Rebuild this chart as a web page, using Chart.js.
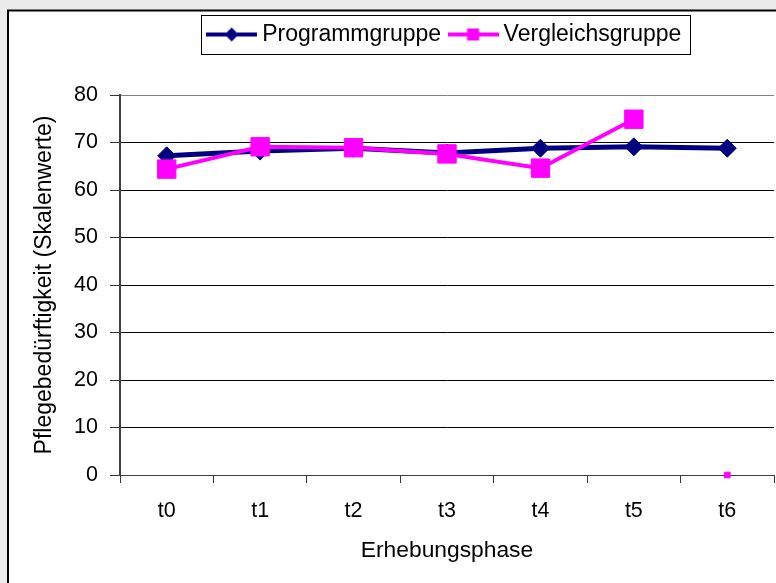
<!DOCTYPE html>
<html>
<head>
<meta charset="utf-8">
<script src="https://cdn.jsdelivr.net/npm/chart.js@4.4.1/dist/chart.umd.min.js"></script>
<style>
    body { margin: 0; background: #ebebeb; }
    canvas { display: block; }
</style>
</head>
<body>
<canvas id="grafico" width="776" height="583"></canvas>
<script>
const phasen = ['t0', 't1', 't2', 't3', 't4', 't5', 't6'];
const programmgruppe = [67.2, 68.2, 68.8, 67.8, 68.8, 69.1, 68.8];
const vergleichsgruppe = [64.4, 69.1, 68.9, 67.6, 64.6, 74.9, 0];
const yTicks = [0, 10, 20, 30, 40, 50, 60, 70, 80];

const FONT = "'Liberation Sans', Arial, sans-serif";

// legend sample: line with marker
function sample(color, marker) {
    const c = document.createElement('canvas');
    c.width = 51; c.height = 20;
    const g = c.getContext('2d');
    g.strokeStyle = color;
    g.lineWidth = 4;
    g.beginPath(); g.moveTo(0, 10); g.lineTo(51, 10); g.stroke();
    g.fillStyle = color;
    g.beginPath();
    if (marker === 'diamond') {
        g.moveTo(25.5, 3); g.lineTo(32.5, 10); g.lineTo(25.5, 17); g.lineTo(18.5, 10);
    } else {
        g.rect(19.5, 4, 12, 12);
    }
    g.fill();
    return c;
}
const samples = [sample('#000080', 'diamond'), sample('#ff00ff', 'square')];

const rahmen = {
    id: 'rahmen',
    beforeInit(chart) {
        const fit = chart.legend.fit;
        chart.legend.fit = function () {
            fit.bind(chart.legend)();
            this.height = 85;
        };
    },
    beforeDraw(chart) {
        const ctx = chart.ctx;
        ctx.save();
        ctx.fillStyle = '#ebebeb';
        ctx.fillRect(0, 0, chart.width, chart.height);
        ctx.fillStyle = '#ffffff';
        ctx.fillRect(7, 10, chart.width, chart.height);
        ctx.strokeStyle = '#000';
        ctx.lineWidth = 2;
        ctx.beginPath();
        ctx.moveTo(8, chart.height); ctx.lineTo(8, 10.5); ctx.lineTo(chart.width, 10.5);
        ctx.stroke();
        ctx.restore();
    },
    afterDraw(chart) {
        const boxes = chart.legend.legendHitBoxes;
        if (!boxes || !boxes.length) return;
        const first = boxes[0], last = boxes[boxes.length - 1];
        const ctx = chart.ctx;
        ctx.save();
        ctx.strokeStyle = '#000';
        ctx.lineWidth = 1;
        const l = Math.round(first.left - 12) + 0.5;
        const r = Math.round(last.left + last.width + 9) + 0.5;
        const t = Math.round(first.top - 8) + 0.5;
        const b = Math.round(first.top + first.height + 8) + 0.5;
        ctx.strokeRect(l, t, r - l, b - t);
        ctx.restore();
    }
};

new Chart(document.getElementById('grafico'), {
    type: 'line',
    data: {
        labels: phasen,
        datasets: [{
            label: 'Programmgruppe',
            data: programmgruppe,
            order: 1,
            borderColor: '#000080',
            backgroundColor: '#000080',
            borderWidth: 5,
            pointStyle: 'rectRot',
            pointRadius: 9,
            pointBorderWidth: 1,
            tension: 0,
            clip: false
        }, {
            label: 'Vergleichsgruppe',
            data: vergleichsgruppe,
            order: 0,
            borderColor: '#ff00ff',
            backgroundColor: '#ff00ff',
            borderWidth: 4,
            pointStyle: 'rect',
            pointRadius: ctx => ctx.dataIndex === 6 ? 4 : 13,
            pointBorderWidth: 1,
            tension: 0,
            clip: false,
            segment: {
                borderColor: ctx => ctx.p1DataIndex === 6 ? 'rgba(0,0,0,0)' : undefined
            }
        }]
    },
    options: {
        responsive: false,
        animation: false,
        layout: { autoPadding: false, padding: { top: 10, left: 0, right: 2, bottom: 0 } },
        plugins: {
            tooltip: { enabled: false },
            legend: {
                position: 'top',
                fullSize: false,
                labels: {
                    usePointStyle: true,
                    pointStyleWidth: 38,
                    padding: 13,
                    color: '#000',
                    font: { family: FONT, size: 23 },
                    sort: (a, b) => a.datasetIndex - b.datasetIndex,
                    generateLabels(chart) {
                        const items = Chart.defaults.plugins.legend.labels.generateLabels(chart);
                        items.forEach(it => { it.pointStyle = samples[it.datasetIndex]; });
                        return items;
                    }
                }
            }
        },
        scales: {
            x: {
                offset: true,
                afterFit(scale) {
                    scale.height = 108;
                    scale.paddingLeft = 0;
                    scale.paddingRight = 0;
                },
                grid: {
                    offset: true,
                    tickLength: 8,
                    color: ctx => ctx.index === phasen.length ? '#808080' : 'rgba(0,0,0,0)',
                    tickColor: '#333'
                },
                border: { color: '#404040', width: 1 },
                ticks: {
                    color: '#000',
                    padding: 15.6,
                    font: { family: FONT, size: 21.5 }
                },
                title: {
                    display: true,
                    text: 'Erhebungsphase',
                    color: '#000',
                    font: { family: FONT, size: 22.8 },
                    padding: { bottom: 18.5 }
                }
            },
            y: {
                min: yTicks[0],
                max: yTicks[yTicks.length - 1],
                afterFit(scale) { scale.width = 120; },
                afterBuildTicks(scale) { scale.ticks = yTicks.map(v => ({ value: v })); },
                grid: {
                    tickLength: 10,
                    color: ctx => ctx.tick && ctx.tick.value === 80 ? '#808080' : '#000',
                    tickColor: '#333'
                },
                border: { color: '#404040', width: 2 },
                ticks: {
                    color: '#000',
                    padding: 12,
                    font: { family: FONT, size: 21.5 }
                },
                title: {
                    display: true,
                    text: 'Pflegebedürftigkeit (Skalenwerte)',
                    color: '#000',
                    font: { family: FONT, size: 23 },
                    padding: { top: 31.2 }
                }
            }
        }
    },
    plugins: [rahmen]
});
</script>
</body>
</html>
